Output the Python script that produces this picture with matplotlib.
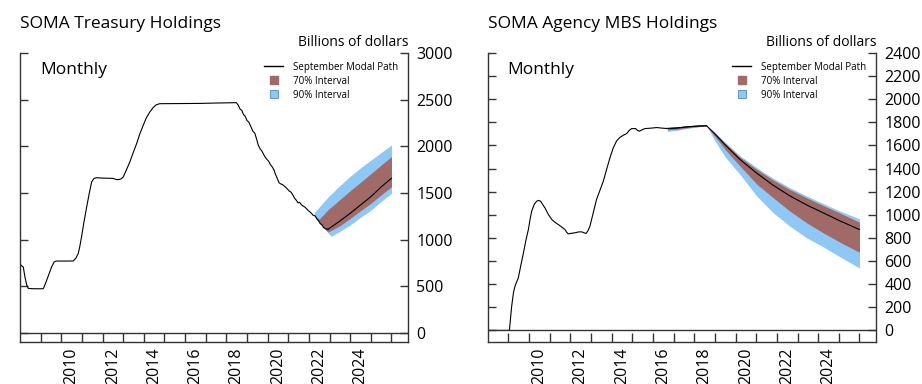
#!/usr/bin/env python3
"""
SOMA holdings projections: Treasury and agency MBS, with 70% / 90% intervals
"""

import matplotlib
matplotlib.use('Agg')
import matplotlib.pyplot as plt
from matplotlib.lines import Line2D

plt.rcParams['font.family'] = ['Open Sans', 'DejaVu Sans']
plt.rcParams['axes.linewidth'] = 1.0

# ============================================================
# data (billions of dollars, x in fractional years)
# ============================================================

# --- Treasury holdings, history
tsy_hist_x = [2008.0, 2008.08, 2008.16, 2008.24, 2008.32, 2008.40, 2008.6, 2008.9, 2009.13, 2009.26,
              2009.4, 2009.53, 2009.65, 2009.74, 2010.2, 2010.58, 2010.7, 2010.82, 2010.9, 2010.98,
              2011.1, 2011.23, 2011.35, 2011.47, 2011.58, 2011.71, 2012.0, 2012.3, 2012.52, 2012.65,
              2012.76, 2012.9, 2013.0, 2013.15, 2013.32, 2013.48, 2013.65, 2013.8, 2013.97, 2014.12,
              2014.29, 2014.45, 2014.6, 2014.77, 2015.5, 2016.71, 2017.5, 2018.48,
              2018.58, 2018.66, 2018.75, 2018.83, 2018.92, 2019.0, 2019.08, 2019.17, 2019.29, 2019.38,
              2019.46, 2019.55, 2019.63, 2019.72, 2019.8, 2019.88, 2019.96, 2020.05, 2020.13, 2020.22,
              2020.3, 2020.38, 2020.46, 2020.55, 2020.63, 2020.72, 2020.8, 2020.88, 2020.97, 2021.05,
              2021.13, 2021.22, 2021.3, 2021.38, 2021.47, 2021.55, 2021.63, 2021.72, 2021.8, 2021.88,
              2021.97, 2022.05, 2022.13, 2022.21, 2022.3, 2022.38, 2022.46, 2022.55, 2022.63, 2022.71,
              2022.8, 2022.92]
tsy_hist_y = [740, 720, 707, 600, 520, 478, 475, 474, 475, 546,
              630, 707, 760, 771, 771, 772, 800, 850, 930, 1028,
              1190, 1350, 1490, 1618, 1655, 1664, 1660, 1658, 1657, 1645,
              1643, 1652, 1671, 1745, 1832, 1930, 2029, 2130, 2225, 2305,
              2368, 2415, 2445, 2457, 2458, 2460, 2464, 2468,
              2440, 2400, 2385, 2340, 2320, 2275, 2262, 2220, 2160, 2140,
              2080, 2010, 1975, 1950, 1915, 1885, 1862, 1840, 1805, 1780,
              1750, 1700, 1660, 1610, 1598, 1590, 1575, 1560, 1540, 1520,
              1510, 1480, 1445, 1425, 1395, 1400, 1375, 1360, 1350, 1333,
              1310, 1298, 1280, 1260, 1255, 1225, 1205, 1172, 1160, 1130,
              1118, 1111]

# --- Treasury projection
tsy_fan_x = [2022.25, 2022.5, 2022.92, 2023.08, 2023.5, 2024.0, 2024.5, 2025.0, 2025.5, 2026.0]
tsy_hi90 = [1290, 1350, 1455, 1490, 1580, 1680, 1770, 1852, 1935, 2015]
tsy_hi70 = [1262, 1220, 1320, 1350, 1430, 1525, 1615, 1707, 1800, 1890]
tsy_lo70 = [1262, 1180, 1082, 1100, 1150, 1228, 1310, 1390, 1480, 1568]
tsy_lo90 = [1262, 1180, 1075, 1036, 1090, 1158, 1240, 1315, 1410, 1497]
tsy_modal_x = [2022.92, 2023.5, 2024.0, 2024.5, 2025.0, 2025.5, 2026.0]
tsy_modal_y = [1111, 1200, 1283, 1372, 1460, 1565, 1658]

# --- MBS holdings, history
mbs_hist_x = [2008.0, 2009.05, 2009.16, 2009.25, 2009.32, 2009.40, 2009.48, 2009.6, 2009.73, 2009.85,
              2009.97, 2010.05, 2010.13, 2010.25, 2010.37, 2010.47, 2010.56, 2010.66, 2010.77, 2010.93,
              2011.10, 2011.26, 2011.42, 2011.58, 2011.74, 2011.82, 2011.90, 2012.05, 2012.23, 2012.4,
              2012.55, 2012.66, 2012.76, 2012.85, 2012.95, 2013.1, 2013.27, 2013.44, 2013.6, 2013.76,
              2013.92, 2014.08, 2014.24, 2014.4, 2014.56, 2014.73, 2014.85, 2014.97, 2015.16, 2015.26,
              2015.34, 2015.5, 2015.61, 2015.9, 2016.18, 2016.45, 2016.74, 2017.2, 2017.63, 2018.2,
              2018.6]
mbs_hist_y = [0, 0, 208, 330, 381, 420, 453, 560, 670, 780,
              873, 960, 1032, 1090, 1118, 1125, 1118, 1090, 1061, 1005,
              960, 935, 916, 895, 873, 850, 836, 840, 845, 852,
              853, 845, 839, 860, 902, 1010, 1133, 1215, 1292, 1395,
              1494, 1580, 1639, 1670, 1688, 1703, 1730, 1746, 1746, 1730,
              1723, 1738, 1746, 1750, 1755, 1750, 1746, 1752, 1761, 1768,
              1770]

# --- MBS projection
mbs_fan_x = [2016.7, 2017.2, 2017.7, 2018.2, 2018.6, 2019.0, 2019.5, 2020.22, 2021.03, 2021.83,
             2022.64, 2023.45, 2024.25, 2025.06, 2026.0]
mbs_modal_y = [1748, 1752, 1762, 1768, 1770, 1700, 1605, 1478, 1360, 1255, 1163, 1085, 1017, 947, 873]
mbs_hi70 = [1750, 1754, 1763, 1769, 1770, 1708, 1618, 1498, 1393, 1300, 1218, 1147, 1080, 1015, 936]
mbs_hi90 = [1752, 1756, 1764, 1770, 1770, 1714, 1628, 1511, 1408, 1315, 1234, 1163, 1097, 1033, 965]
mbs_lo70 = [1735, 1742, 1754, 1764, 1770, 1680, 1565, 1421, 1265, 1147, 1031, 930, 844, 763, 676]
mbs_lo90 = [1722, 1732, 1748, 1761, 1770, 1640, 1500, 1349, 1161, 1017, 901, 800, 723, 636, 540]

tick_years = list(range(2009, 2027))
label_years = [2010, 2012, 2014, 2016, 2018, 2020, 2022, 2024]
legend_labels = ['September Modal Path', '70% Interval', '90% Interval']

BROWN = '#a06a68'
BLUE = '#8fc8f5'
BLUE_EDGE = '#4f8cc4'
SPINE = '#333333'

W, H = 922, 384


def draw_panel(ax, title, hist_x, hist_y, fan_x, lo90, lo70, hi70, hi90,
               modal_x, modal_y, ylim, yticks):
    ax.fill_between(fan_x, lo90, hi90, color=BLUE, linewidth=0)
    ax.fill_between(fan_x, lo70, hi70, color=BROWN, linewidth=0)
    ax.plot(hist_x, hist_y, color='black', linewidth=0.8)
    ax.plot(modal_x, modal_y, color='black', linewidth=0.8)
    ax.axhline(0, color=SPINE, linewidth=1.0)

    ax.set_xlim(2008, 2026.8)
    ax.set_ylim(*ylim)

    ax.spines['top'].set_visible(False)
    for s in ['left', 'right', 'bottom']:
        ax.spines[s].set_color(SPINE)

    ax.set_yticks(yticks)
    ax.set_yticklabels([str(v) for v in yticks])
    ax.tick_params(axis='y', which='major', direction='in', left=True, right=True,
                   labelleft=False, labelright=True, length=6, width=1.0,
                   color=SPINE, pad=6, labelsize=11.5)

    ax.set_xticks(tick_years)
    ax.set_xticklabels([])
    ax.set_xticks([y + 0.5 for y in label_years], minor=True)
    ax.set_xticklabels([str(y) for y in label_years], minor=True, rotation=90)
    ax.tick_params(axis='x', which='major', direction='in', length=6.5, width=1.0, color=SPINE)
    ax.tick_params(axis='x', which='minor', length=0, pad=4, labelsize=11.5)

    handles = [Line2D([], [], color='black', linewidth=1.0),
               Line2D([], [], marker='s', linestyle='none', markersize=5.5,
                      markerfacecolor=BROWN, markeredgecolor=BROWN),
               Line2D([], [], marker='s', linestyle='none', markersize=5.5,
                      markerfacecolor=BLUE, markeredgecolor=BLUE_EDGE, markeredgewidth=0.6)]
    ax.legend(handles, legend_labels, loc='upper right', bbox_to_anchor=(0.975, 0.97),
              frameon=False, fontsize=7, handlelength=2.0, handletextpad=1.0,
              labelspacing=0.3, borderpad=0, borderaxespad=0)

    # titles in figure pixel coordinates
    bb = ax.get_position()
    left_px = bb.x0 * W
    right_px = bb.x1 * W
    fig = ax.figure
    fig.text(left_px / W, 1 - 24 / H, title, fontsize=12.5, va='center', ha='left')
    fig.text(right_px / W, 1 - 43 / H, 'Billions of dollars', fontsize=10,
             va='center', ha='right')
    fig.text((left_px + 20) / W, 1 - 70 / H, 'Monthly', fontsize=12.5, va='center', ha='left')


fig = plt.figure(figsize=(W / 100, H / 100), dpi=100)
ax1 = fig.add_axes([20 / W, 1 - 342 / H, 388 / W, 289 / H])
ax2 = fig.add_axes([487.7 / W, 1 - 342 / H, 388.3 / W, 289 / H])

draw_panel(ax1, 'SOMA Treasury Holdings', tsy_hist_x, tsy_hist_y, tsy_fan_x,
           tsy_lo90, tsy_lo70, tsy_hi70, tsy_hi90, tsy_modal_x, tsy_modal_y,
           (-96, 3000), list(range(0, 3001, 500)))
draw_panel(ax2, 'SOMA Agency MBS Holdings', mbs_hist_x, mbs_hist_y, mbs_fan_x,
           mbs_lo90, mbs_lo70, mbs_hi70, mbs_hi90, mbs_fan_x, mbs_modal_y,
           (-100, 2400), list(range(0, 2401, 200)))

fig.savefig('out.png', dpi=100, facecolor='white')
